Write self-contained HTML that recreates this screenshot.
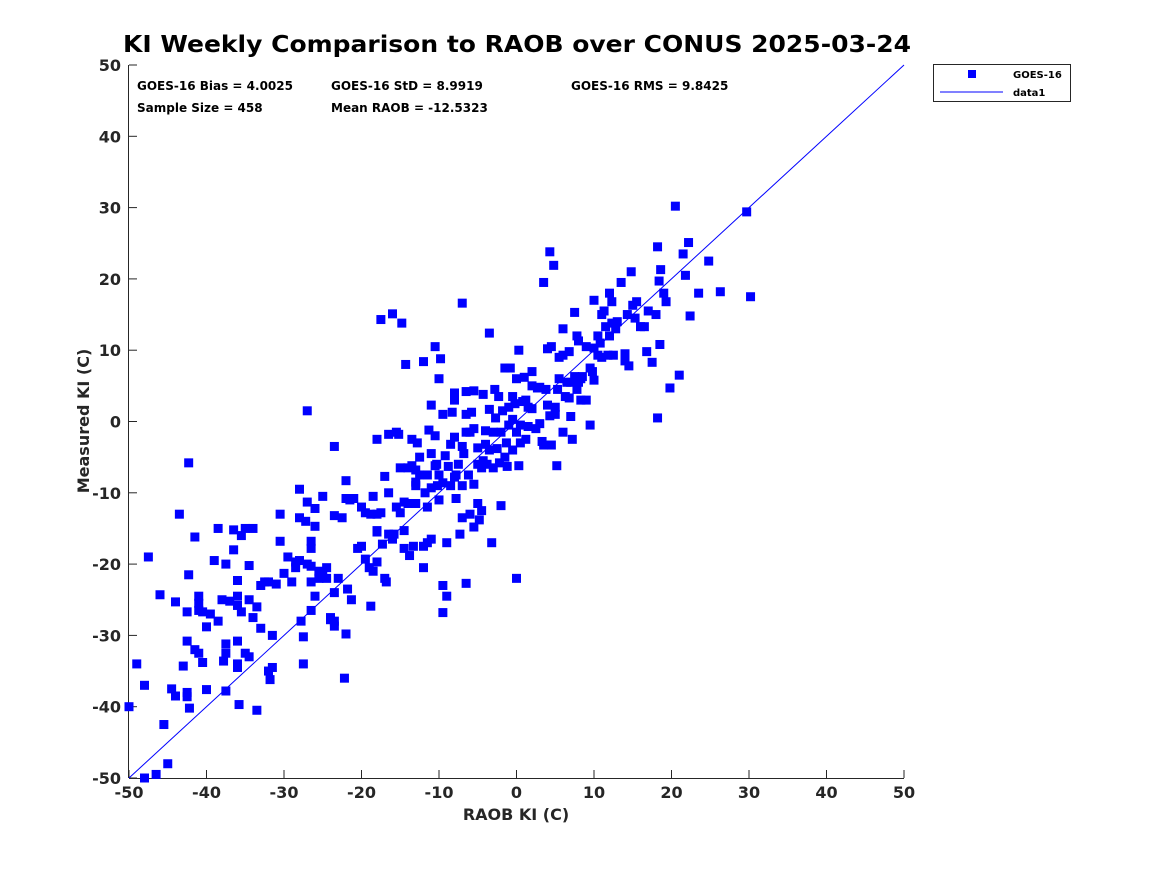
<!DOCTYPE html>
<html><head><meta charset="utf-8"><style>
body{margin:0;background:#fff}
svg{display:block;font-family:"DejaVu Sans","Liberation Sans",sans-serif}
</style></head><body>
<svg id="chart" width="1167" height="875" xmlns="http://www.w3.org/2000/svg">
<rect width="1167" height="875" fill="#fff"/>
<text x="517" y="52" text-anchor="middle" font-size="23" font-weight="bold" fill="#000" textLength="788" lengthAdjust="spacingAndGlyphs">KI Weekly Comparison to RAOB over CONUS 2025-03-24</text>
<g id="axes"></g>
<g id="points"></g>
<g font-size="12" font-weight="bold" fill="#000">
<text x="137" y="90">GOES-16 Bias = 4.0025</text>
<text x="331" y="90">GOES-16 StD = 8.9919</text>
<text x="571" y="90">GOES-16 RMS = 9.8425</text>
<text x="137" y="112">Sample Size = 458</text>
<text x="331" y="112">Mean RAOB = -12.5323</text>
</g>
<text x="516" y="820" text-anchor="middle" font-size="16" font-weight="bold" fill="#262626">RAOB KI (C)</text>
<text transform="translate(89,421) rotate(-90)" text-anchor="middle" font-size="16" font-weight="bold" fill="#262626">Measured KI (C)</text>
<g>
<rect x="933.5" y="64.5" width="137" height="37" fill="#fff" stroke="#262626" stroke-width="1"/>
<rect x="968" y="70" width="8" height="8" fill="#0000ff"/>
<text x="1013" y="78" font-size="10" font-weight="bold" fill="#000">GOES-16</text>
<line x1="940" y1="92" x2="1003" y2="92" stroke="#0000ff" stroke-width="1"/>
<text x="1013" y="96" font-size="10" font-weight="bold" fill="#000">data1</text>
</g>
</svg>
<script>
const xTicks=[-50,-40,-30,-20,-10,0,10,20,30,40,50];
const yTicks=[-50,-40,-30,-20,-10,0,10,20,30,40,50];
const raobKI=[-50,-49,-48,-48,-47.5,-46.5,-46,-45.5,-45,-44.5,-44,-44,-43.5,-43,-42.5,-42.5,-42.5,-42.3,-42.5,-42.3,-42.2,-41.5,-41.5,-41,-41,-41,-41,-40.5,-40.5,-40,-40,-39.5,-39,-38.5,-38.5,-38,-37.8,-37.5,-37.5,-37.5,-37.5,-37,-36.5,-36.5,-36,-36,-36,-36,-36,-36,-35.8,-35.5,-35.5,-35,-35,-34.5,-34.5,-34.5,-34,-34,-33.5,-33.5,-33,-33,-32.5,-32,-32,-31.8,-31.5,-31.5,-31,-30.5,-30.5,-30,-29.5,-29,-28.5,-28.5,-28,-28,-28,-27.8,-27.5,-27.5,-27.2,-27,-27,-27,-26.5,-26.5,-26.5,-26.5,-26.5,-26,-26,-26,-25.5,-25.5,-25,-25,-24.5,-24.5,-24,-24,-23.5,-23.5,-23.5,-23.5,-23.5,-23,-22.5,-22.2,-22,-22,-22,-21.5,-21.8,-21.3,-21,-20.5,-20,-20,-19.5,-19.5,-19,-18.8,-18.8,-18.5,-18.5,-18,-18,-18,-18,-18,-17.5,-17.5,-17.3,-17,-17,-16.8,-16.5,-16.5,-16.5,-16,-16,-15.8,-15.5,-15.5,-15.2,-15,-15,-14.8,-14.5,-14.5,-14.5,-14.3,-14,-14,-13.8,-13.5,-13.5,-13.3,-13,-13,-13,-13,-12.8,-12.5,-12.5,-12,-12,-12,-11.8,-11.5,-11.5,-11.5,-11.3,-11,-11,-11,-11,-10.5,-10.5,-10.5,-10.3,-10.2,-10,-10,-10,-9.8,-9.5,-9.5,-9.5,-9.5,-9.2,-9,-9,-8.8,-8.5,-8.5,-8.3,-8,-8,-8,-8,-7.8,-7.8,-7.5,-7.3,-7,-7,-7,-7,-6.8,-6.5,-6.5,-6.5,-6.5,-6.2,-6,-6,-5.8,-5.5,-5.5,-5.5,-5.5,-5,-5,-5,-4.8,-4.5,-4.5,-4.3,-4.3,-4,-4,-3.8,-3.5,-3.5,-3.5,-3.2,-3,-3,-2.8,-2.7,-2.5,-2.3,-2.2,-2,-2,-1.8,-1.5,-1.5,-1.3,-1.2,-1,-1,-0.8,-0.5,-0.5,-0.5,-0.2,0,0,0,0.3,0.3,0.5,0.5,0.8,1,1.2,1.2,1.5,1.5,2,2,2,2.5,2.7,3,3,3.3,3.5,3.5,3.8,4,4,4.3,4.3,4.5,4.5,4.8,5,5,5.2,5.3,5.5,5.5,6,6,6,6.3,6.5,6.8,6.8,7,7,7.2,7.5,7.5,7.8,7.8,8,8,8.3,8.3,8.5,9,9,9.5,9.5,9.8,10,10,10,10.5,10.5,10.8,11,11,11.3,11.5,11.8,12,12,12.3,12.3,12.5,12.8,13,13.5,14,14,14.3,14.5,14.8,15,15.3,15.5,16,16.5,16.8,17,17.5,18,18.2,18.2,18.4,18.5,18.6,19,19.3,19.8,20.5,21,21.5,21.8,22.2,22.4,23.5,24.8,26.3,29.7,30.2];
const measuredKI=[-40,-34,-37,-50,-19,-49.5,-24.3,-42.5,-48,-37.5,-38.5,-25.3,-13,-34.3,-30.8,-38.6,-38,-21.5,-26.7,-5.8,-40.2,-16.2,-32,-26.5,-25.5,-24.5,-32.5,-33.8,-26.7,-37.6,-28.8,-27,-19.5,-15,-28,-25,-33.6,-32.5,-31.2,-20,-37.8,-25.2,-15.2,-18,-22.3,-24.5,-25.8,-30.8,-34,-34.5,-39.7,-26.7,-16,-15,-32.5,-33,-20.2,-25,-15,-27.5,-40.5,-26,-23,-29,-22.5,-22.5,-35,-36.2,-30,-34.5,-22.8,-13,-16.8,-21.3,-19,-22.5,-19.7,-20.5,-9.5,-13.5,-19.5,-28,-34,-30.2,-14,1.5,-11.3,-20,-16.8,-17.8,-20.3,-22.5,-26.5,-14.7,-12.2,-24.5,-21,-22,-10.5,-21.5,-20.5,-22,-27.5,-27.8,-13.2,-3.5,-24,-28,-28.7,-22,-13.5,-36,-10.8,-8.3,-29.8,-11,-23.5,-25,-10.8,-17.8,-12,-17.5,-12.8,-19.3,-20.5,-13,-25.9,-10.5,-21,-15.3,-15.5,-19.7,-2.5,-13,-12.8,14.3,-17.2,-22,-7.7,-22.5,-15.8,-10,-1.8,15.1,-16.5,-15.8,-12,-1.5,-1.8,-12.8,-6.5,13.8,-11.3,-15.3,-17.8,8,-6.5,-11.5,-18.8,-6.2,-2.5,-17.5,-11.5,-8.5,-6.8,-9,-3,-7.5,-5,8.4,-17.5,-20.5,-10,-7.5,-12,-17,-1.2,2.3,-4.5,-9.3,-16.5,-6.2,10.5,-2,-6,-9,6,-7.5,-11,8.8,1,-8.6,-26.8,-23,-4.8,-17,-24.5,-6.3,-9,-3.2,1.3,-7.8,-2.2,3,4,-10.8,-7.5,-6,-15.8,-3.5,-9,16.6,-13.5,-4.5,-1.5,-22.7,1,4.2,-7.5,-13,-1.5,1.3,-14.8,-8.8,-1,4.3,-6,-3.7,-11.5,-13.8,-6.5,-12.5,-5.5,3.8,-3.2,-1.3,-6,12.4,1.7,-4,-17,-6.5,-1.5,4.5,0.5,-3.8,3.5,-5.8,-1.5,-11.8,1.5,-5,7.5,-3,-6.3,2,-0.5,7.5,3.5,0.3,-4,2.5,-1.5,6,-22,10,-6.2,-3,-0.5,2.8,6.2,-2.5,3,2,-0.7,5,7,1.8,-1,4.7,4.8,-0.3,-2.8,19.5,-3.3,4.5,2.3,10.2,0.8,23.8,-3.3,10.5,21.9,1,2,-6.2,4.5,9,6,13,9.3,-1.5,3.5,5.5,9.8,3.3,5.5,0.7,-2.5,15.3,6.3,12,4.5,11.3,5.5,3,6,6.3,10.5,3,7.5,-0.5,7,17,10.3,5.8,9.3,12,11,15,9,15.5,13.3,9.3,12,18,13.8,16.8,9.3,13,14,19.5,9.5,8.5,15,7.8,21,16.3,14.5,16.8,13.3,13.3,9.8,15.5,8.3,15,0.5,24.5,19.7,10.8,21.3,18,16.8,4.7,30.2,6.5,23.5,20.5,25.1,14.8,18,22.5,18.2,29.4,17.5];
const L=129,R=904,T=65,B=778;
const sx=v=>L+(v+50)/100*(R-L);
const sy=v=>B-(v+50)/100*(B-T);
const NS="http://www.w3.org/2000/svg";
const ax=document.getElementById('axes');
function mk(tag,attrs,parent){const e=document.createElementNS(NS,tag);for(const k in attrs)e.setAttribute(k,attrs[k]);parent.appendChild(e);return e;}
xTicks.forEach(t=>{
  const x=sx(t);
  const tk=mk('line',{x1:x,y1:B,x2:x,y2:B-8,stroke:'#262626'},ax);
  
  
  const lb=mk('text',{x:x,y:B+20,'text-anchor':'middle','font-size':16,'font-weight':'bold',fill:'#262626'},ax);
  lb.textContent=t;
  
  
});
yTicks.forEach(t=>{
  const y=sy(t);
  const tk=mk('line',{x1:L,y1:y,x2:L+8,y2:y,stroke:'#262626'},ax);
  
  
  const lb=mk('text',{x:L-8,y:y+6,'text-anchor':'end','font-size':16,'font-weight':'bold',fill:'#262626'},ax);
  lb.textContent=t;
  
  
});
const xa=mk('line',{x1:L,y1:B+0.5,x2:R,y2:B+0.5,stroke:'#262626','stroke-width':1},ax);


const ya=mk('line',{x1:L-0.5,y1:T,x2:L-0.5,y2:B,stroke:'#262626','stroke-width':1},ax);


const pg=document.getElementById('points');
raobKI.forEach((v,i)=>{
  const r=mk('rect',{x:sx(v)-4.5,y:sy(measuredKI[i])-4.5,width:9,height:9,fill:'#0000ff'},pg);
  
  
});
const ref=mk('line',{x1:sx(-50),y1:sy(-50),x2:sx(50),y2:sy(50),stroke:'#0000ff','stroke-width':1},document.getElementById('chart'));


</script>
</body></html>
